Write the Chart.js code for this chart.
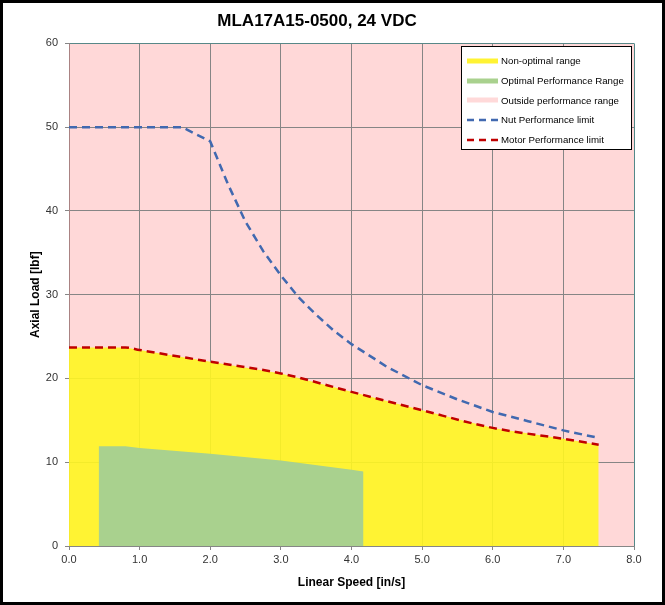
<!DOCTYPE html>
<html>
<head>
<meta charset="utf-8">
<script src="https://cdn.jsdelivr.net/npm/chart.js@4.4.1/dist/chart.umd.min.js"></script>
<style>
  body { margin: 0; background: #fff; }
  #wrap { position: relative; width: 665px; height: 605px; }
  #frame { position: absolute; left: 0; top: 0; width: 665px; height: 605px; box-sizing: border-box; border: 3px solid #000; pointer-events: none; }
  #legend { position: absolute; left: 461px; top: 46px; width: 171px; height: 104px; box-sizing: border-box; border: 1px solid #000; background: #fff; font: 9.7px "Liberation Sans", Arial, sans-serif; color: #000; padding-top: 4px; }
  #legend .row { display: flex; align-items: center; height: 19.7px; }
  #legend canvas { margin-left: 5px; margin-right: 3px; }
</style>
</head>
<body>
<div id="wrap">
  <canvas id="myChart" width="665" height="605"></canvas>
  <div id="legend"></div>
  <div id="frame"></div>
</div>
<script>
// motor performance limit (also top of the non-optimal range)
var motorX = [0, 0.8, 1.0, 2.0, 3.0, 4.0, 5.0, 6.0, 7.0, 7.5];
var motorY = [23.7, 23.7, 23.4, 22.0, 20.6, 18.4, 16.2, 14.1, 12.8, 12.1];

// nut performance limit
var nutX = [0, 0.5, 1.0, 1.6, 2.0, 2.25, 2.5, 2.75, 3.0, 3.25, 3.5, 3.75, 4.0, 4.5, 5.0, 5.5, 6.0, 6.5, 7.0, 7.5];
var nutY = [50, 50, 50, 50, 48.3, 43.2, 38.7, 35.2, 32.3, 29.7, 27.6, 25.7, 24.1, 21.4, 19.2, 17.5, 16.0, 14.9, 13.8, 12.9];

// optimal performance range
var optX = [0.42, 0.42, 0.8, 1.0, 2.0, 3.0, 4.0, 4.17, 4.17];
var optY = [0, 11.9, 11.9, 11.7, 11.0, 10.2, 9.1, 8.9, 0];

// outside performance range (whole plot)
var outX = [0, 8];
var outY = [60, 60];

var labels = ['Non-optimal range', 'Optimal Performance Range', 'Outside performance range', 'Nut Performance limit', 'Motor Performance limit'];

function pts(xs, ys) {
  return xs.map(function(x, i) { return {x: x, y: ys[i]}; });
}

var yellowPts = pts(motorX, motorY);
yellowPts.push({x: motorX[motorX.length - 1], y: 0});

var tickFont = {family: '"Liberation Sans", Arial, sans-serif', size: 11};
var titleFont = {family: '"Liberation Sans", Arial, sans-serif', size: 12, weight: 'bold'};

var chart = new Chart(document.getElementById('myChart'), {
  type: 'line',
  data: {
    datasets: [
      {
        label: labels[0], data: yellowPts, order: 3,
        backgroundColor: 'rgba(255,246,33,0.9)', borderWidth: 0, fill: 'origin', pointRadius: 0
      },
      {
        label: labels[1], data: pts(optX, optY), order: 2,
        backgroundColor: '#A9D18E', borderWidth: 0, fill: 'origin', pointRadius: 0
      },
      {
        label: labels[2], data: pts(outX, outY), order: 4,
        backgroundColor: 'rgba(255,127,127,0.3)', borderWidth: 0, fill: 'origin', pointRadius: 0
      },
      {
        label: labels[3], data: pts(nutX, nutY), order: 1,
        borderColor: '#4169B0', borderWidth: 2.5, borderDash: [8, 5], fill: false, pointRadius: 0,
        tension: 0
      },
      {
        label: labels[4], data: pts(motorX, motorY), order: 0,
        borderColor: '#C00000', borderWidth: 2.5, borderDash: [8, 5], fill: false, pointRadius: 0,
        cubicInterpolationMode: 'monotone'
      }
    ]
  },
  options: {
    responsive: false,
    animation: false,
    layout: { padding: { left: 0, right: 31, top: 0, bottom: 0 } },
    plugins: {
      legend: { display: false },
      tooltip: { enabled: false },
      title: {
        display: true,
        text: 'MLA17A15-0500, 24 VDC',
        color: '#000',
        font: {family: '"Liberation Sans", Arial, sans-serif', size: 17, weight: 'bold'},
        padding: { top: 11, bottom: 12 }
      }
    },
    scales: {
      x: {
        type: 'linear', min: 0, max: 8,
        ticks: { stepSize: 1, color: '#333', font: tickFont, padding: 3, maxRotation: 0,
          callback: function(v) { return v.toFixed(1); } },
        grid: { color: 'rgb(82,137,137)', tickColor: '#868686', tickLength: 4 },
        border: { color: '#868686' },
        title: { display: true, text: 'Linear Speed [in/s]', color: '#000', font: titleFont, padding: { top: 4, bottom: 15 } },
        afterFit: function(s) { s.height = 59; }
      },
      y: {
        min: 0, max: 60,
        ticks: { stepSize: 10, color: '#333', font: tickFont, padding: 7 },
        grid: { color: 'rgb(82,137,137)', tickColor: '#868686', tickLength: 4 },
        border: { color: '#868686' },
        title: { display: true, text: 'Axial Load [lbf]', color: '#000', font: titleFont, padding: { top: 28, bottom: 0 } },
        afterFit: function(s) { s.width = 69; }
      }
    }
  }
});

// legend box drawn from the chart's datasets
var box = document.getElementById('legend');
chart.data.datasets.forEach(function(ds) {
  var row = document.createElement('div');
  row.className = 'row';
  var sw = document.createElement('canvas');
  sw.width = 31; sw.height = 8;
  var c = sw.getContext('2d');
  c.beginPath();
  c.moveTo(0, 4); c.lineTo(31, 4);
  if (ds.borderDash) {
    c.strokeStyle = ds.borderColor; c.lineWidth = 2.5; c.setLineDash([7, 5]);
  } else {
    c.strokeStyle = ds.label === labels[2] ? '#FFD9D9' : (ds.label === labels[0] ? '#FFF333' : ds.backgroundColor);
    c.lineWidth = 5;
  }
  c.stroke();
  var t = document.createElement('span');
  t.textContent = ds.label;
  row.appendChild(sw);
  row.appendChild(t);
  box.appendChild(row);
});
</script>
</body>
</html>
